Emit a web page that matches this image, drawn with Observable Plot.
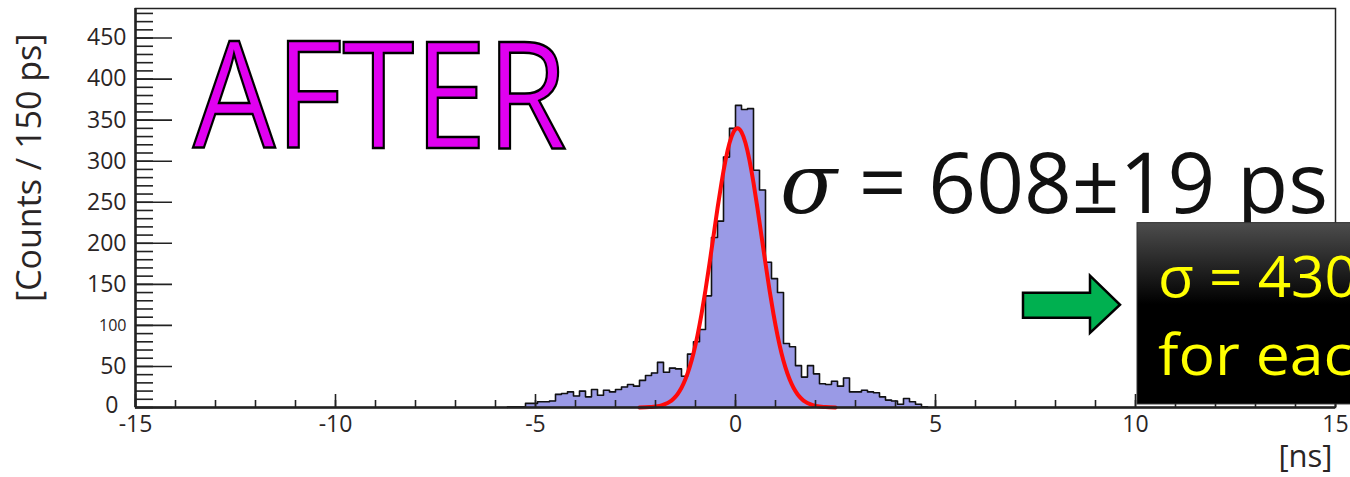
<!DOCTYPE html>
<html><head><meta charset="utf-8">
<script src="https://cdn.jsdelivr.net/npm/d3@7"></script>
<script src="https://cdn.jsdelivr.net/npm/@observablehq/plot@0.6"></script>
<style>
html,body{margin:0;padding:0;background:#fff;}
#chart{width:1350px;height:477px;overflow:hidden;}
svg{font-family:"Open Sans",sans-serif;}
</style></head><body><div id="chart"></div>
<script>
// Histogram: lower bin edges [ns] and counts per 150 ps bin
const binLow = [-5.7,-5.55,-5.4,-5.25,-5.1,-4.95,-4.8,-4.65,-4.5,-4.35,-4.2,-4.05,-3.9,-3.75,-3.6,-3.45,-3.3,-3.15,-3.0,-2.85,
  -2.7,-2.55,-2.4,-2.25,-2.1,-1.95,-1.8,-1.65,-1.5,-1.35,-1.2,-1.05,-0.9,-0.75,-0.6,-0.45,-0.3,-0.15,0,0.15,
  0.3,0.45,0.6,0.75,0.9,1.05,1.2,1.35,1.5,1.65,1.8,1.95,2.1,2.25,2.4,2.55,2.7,2.85,3.0,3.15,
  3.3,3.45,3.6,3.75,3.9,4.05,4.2,4.35,4.5,4.65];
const counts = [1,1,1,5,5,7,7,8,16,17,19,14,20,13,22,15,21,19,22,25,
  28,26,33,39,42,55,43,48,47,38,65,80,95,136,207,227,305,340,368,363,
  364,289,265,177,157,140,78,74,51,37,51,41,29,28,32,26,36,19,19,21,
  19,18,13,9,8,4,11,7,4,1];
const binWidth = 0.15;

// Gaussian fit curve
const fitX = [-2.4,-2.25,-2.15,-2.05,-1.95,-1.85,-1.75,-1.65,-1.55,-1.45,-1.35,-1.25,-1.15,-1.05,-0.95,-0.85,-0.75,-0.65,-0.55,-0.45,-0.35,-0.25,-0.15,-0.05,
  0.05,0.15,0.25,0.35,0.45,0.55,0.65,0.75,0.85,0.95,1.05,1.15,1.25,1.35,1.45,1.55,1.65,1.75,1.85,1.95,2.05,2.15,2.25,2.35,2.5];
const fitY = [0.1,0.3,0.5,0.9,1.5,2.6,4.3,6.8,10.7,16.2,24.0,34.6,48.5,66.2,87.9,113.7,143.1,175.3,209.0,242.5,273.8,301.0,322.1,335.4,
  340,335.4,322.1,301.0,273.8,242.5,209.0,175.3,143.1,113.7,87.9,66.2,48.5,34.6,24.0,16.2,10.7,6.8,4.3,2.6,1.5,0.9,0.5,0.3,0.1];

// Ticks
const xMajorTicks = [-15,-10,-5,0,5,10,15];
const xMinorTicks = [-15,-14,-13,-12,-11,-10,-9,-8,-7,-6,-5,-4,-3,-2,-1,0,1,2,3,4,5,6,7,8,9,10,11,12,13,14,15];
const yMajorTicks = [0,50,100,150,200,250,300,350,400,450];
const yTickLabels = ["0","50","100","150","200","250","300","350","400","450"];
const yMinorTicks = [0,10,20,30,40,50,60,70,80,90,100,110,120,130,140,150,160,170,180,190,200,210,220,230,240,250,260,270,280,290,300,310,320,330,340,350,360,370,380,390,400,410,420,430,440,450,460,470,480];

const histPts = [{x: binLow[0], y: 0}]
  .concat(binLow.map((x, i) => ({x, y: counts[i]})))
  .concat([{x: binLow[binLow.length - 1] + binWidth, y: 0}]);
const fitPts = fitX.map((x, i) => ({x, y: fitY[i]}));
const yLab = yMajorTicks.map((v, i) => ({v, t: yTickLabels[i]}));

const chart = Plot.plot({
  width: 1350, height: 477,
  marginTop: 8, marginBottom: 70, marginLeft: 135, marginRight: 15,
  x: {domain: [-15, 15]},
  y: {domain: [0, 486]},
  style: {fontFamily: "Open Sans", background: "#fff", color: "#222"},
  marks: [
    Plot.areaY(histPts, {x: "x", y: "y", curve: "step-after", fill: "#9a9ae6"}),
    Plot.line(histPts, {x: "x", y: "y", curve: "step-after", stroke: "#111", strokeWidth: 1.6}),
    Plot.line(fitPts, {x: "x", y: "y", curve: "natural", stroke: "#ff0a0a", strokeWidth: 4}),
    Plot.frame({stroke: "#222", strokeWidth: 1.5}),
    Plot.axisY({ticks: yMinorTicks, tickSize: -18, tickFormat: () => "", label: null, strokeWidth: 1.6, stroke: "#222"}),
    Plot.axisY({ticks: yMajorTicks, tickSize: -37, tickFormat: () => "", label: null, strokeWidth: 1.6, stroke: "#222"}),
    Plot.axisX({ticks: xMinorTicks, tickSize: -7, tickFormat: () => "", label: null, strokeWidth: 1.6, stroke: "#222"}),
    Plot.axisX({ticks: xMajorTicks, tickSize: -13, tickFormat: () => "", label: null, strokeWidth: 1.6, stroke: "#222"}),
    Plot.ruleX([-15], {stroke: "#222", strokeWidth: 2.5}),
    Plot.ruleY([0], {stroke: "#222", strokeWidth: 2.5}),
    Plot.text(yLab.filter(d => d.v !== 0), {x: -15, y: "v", text: "t", textAnchor: "end", dx: -9,
      fontSize: d => d.v === 100 ? 16 : 23, fill: "#2a2525"}),
    Plot.text(yLab.filter(d => d.v === 0), {x: -15, y: "v", text: "t", textAnchor: "end", dx: -17, dy: -2,
      fontSize: 23, fill: "#2a2525"}),
    Plot.text(xMajorTicks, {x: d => d, y: 0, text: d => String(d), dy: 17, fontSize: 23, fill: "#2a2525"}),
    Plot.text(["[ns]"], {x: 15, y: 0, text: d => d, textAnchor: "end", dx: -3, dy: 50, fontSize: 31, fill: "#2a2525"}),
    Plot.text(["[Counts / 150 ps]"], {x: -15, y: 292, text: d => d, rotate: -90, dx: -105, fontSize: 34, fill: "#2a2525"})
  ]
});
document.getElementById("chart").appendChild(chart);

// Annotations
const sx = v => chart.scale("x").apply(v);
const sy = v => chart.scale("y").apply(v);
const svg = d3.select(chart);
const defs = svg.append("defs");
const grad = defs.append("linearGradient").attr("id", "boxgrad").attr("x1", 0).attr("x2", 0).attr("y1", 0).attr("y2", 1);
grad.append("stop").attr("offset", "0%").attr("stop-color", "#4d4d4d");
grad.append("stop").attr("offset", "45%").attr("stop-color", "#000");
grad.append("stop").attr("offset", "100%").attr("stop-color", "#000");

const afterPos = {x: -13.55, y: 316};
svg.append("text").attr("x", sx(afterPos.x)).attr("y", sy(afterPos.y))
  .attr("text-anchor", "start")
  .attr("font-family", "Open Sans").attr("font-size", 149)
  .attr("textLength", 374).attr("lengthAdjust", "spacingAndGlyphs")
  .attr("fill", "#e000f0").attr("stroke", "#000").attr("stroke-width", 2.5)
  .text("AFTER");

const sigmaPos = {x: 1.125, y: 236.8};
const st = svg.append("text").attr("x", sx(sigmaPos.x)).attr("y", sy(sigmaPos.y))
  .attr("text-anchor", "start")
  .attr("font-family", "Open Sans").attr("font-size", 84).attr("fill", "#111")
  .attr("textLength", 548).attr("lengthAdjust", "spacingAndGlyphs");
st.append("tspan").attr("font-style", "italic").attr("font-family", "DejaVu Serif").text("σ");
st.append("tspan").text(" = 608±19 ps");

const arrowPts = [[7.2,139.1],[8.875,139.1],[8.875,159.9],[9.625,124.5],[8.875,90.3],[8.875,108.6],[7.2,108.6]];
svg.append("path").attr("d", "M" + arrowPts.map(p => sx(p[0]) + "," + sy(p[1])).join("L") + "Z")
  .attr("fill", "#00b050").attr("stroke", "#000").attr("stroke-width", 2.5).attr("stroke-linejoin", "miter");

const box = {x1: 10.05, x2: 15.6, y1: 3.7, y2: 224.6};
svg.append("rect").attr("x", sx(box.x1)).attr("y", sy(box.y2))
  .attr("width", sx(box.x2) - sx(box.x1)).attr("height", sy(box.y1) - sy(box.y2))
  .attr("fill", "url(#boxgrad)").attr("stroke", "#333").attr("stroke-width", 1);

const boxText = ["σ = 430", "for each"];
const boxTextY = [134, 39.5];
const boxTextLen = [200, 232];
boxText.forEach((t, i) => {
  svg.append("text").attr("x", sx(10.575)).attr("y", sy(boxTextY[i]))
    .attr("text-anchor", "start")
    .attr("font-family", "Open Sans").attr("font-size", 56)
    .attr("textLength", boxTextLen[i]).attr("lengthAdjust", "spacingAndGlyphs")
    .attr("fill", "#ffff00").text(t);
});
</script></body></html>
